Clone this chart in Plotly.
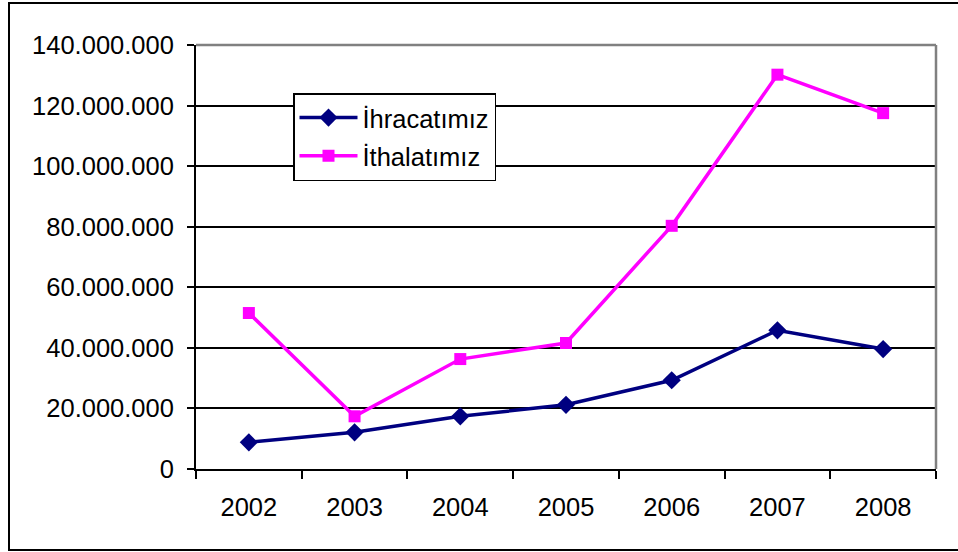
import plotly.graph_objects as go

years = ["2002", "2003", "2004", "2005", "2006", "2007", "2008"]
ihracat = [8.8e6, 12.1e6, 17.4e6, 21.2e6, 29.3e6, 45.8e6, 39.6e6]
ithalat = [51.5e6, 17.4e6, 36.3e6, 41.6e6, 80.3e6, 130.2e6, 117.5e6]
y_ticks = [0, 20e6, 40e6, 60e6, 80e6, 100e6, 120e6, 140e6]

FONT = "Liberation Sans, Arial, sans-serif"
FS = 25.5

fig = go.Figure()
fig.add_trace(go.Scatter(
    x=years, y=ihracat, name="İhracatımız", mode="lines+markers",
    line=dict(color="#000080", width=3.5),
    marker=dict(symbol="diamond", size=14, color="#000080"),
    legendgroup="a",
))
fig.add_trace(go.Scatter(
    x=years, y=ithalat, name="İthalatımız", mode="lines+markers",
    line=dict(color="#FF00FF", width=3.5),
    marker=dict(symbol="square", size=12, color="#FF00FF"),
    legendgroup="b",
))

L, R, T, B = 196, 936, 45, 469
W, H = 958, 552
pw, ph = R - L, B - T

def px(x):
    return (x - L) / pw

def py(y):
    return (B - y) / ph

fig.update_layout(
    width=W, height=H,
    margin=dict(l=L, r=W - R, t=T, b=H - B, pad=0),
    paper_bgcolor="white", plot_bgcolor="white",
    separators=",.",
    font=dict(family=FONT, size=FS, color="black"),
    showlegend=True,
    legend=dict(
        x=px(293), y=py(93), xanchor="left", yanchor="top",
        bordercolor="black", borderwidth=1.5, bgcolor="white",
        font=dict(family=FONT, size=FS, color="black"),
        traceorder="grouped", tracegroupgap=2, itemwidth=58,
    ),
    xaxis=dict(
        type="category", range=[-0.5, 6.5],
        showgrid=False, showline=True, linecolor="black", linewidth=2,
        ticks="outside", ticklen=8, tickwidth=2, tickcolor="black",
        tickson="boundaries", tickfont=dict(size=FS), ticklabelstandoff=14,
        zeroline=False, fixedrange=True,
    ),
    yaxis=dict(
        range=[0, 140e6], tickvals=y_ticks, tickformat=",d",
        showgrid=True, gridcolor="black", gridwidth=2,
        showline=True, linecolor="black", linewidth=2,
        ticks="outside", ticklen=7, tickwidth=2, tickcolor="black",
        tickfont=dict(size=FS), ticklabelstandoff=8,
        zeroline=False, fixedrange=True,
    ),
    shapes=[
        dict(type="line", xref="paper", yref="paper", x0=0, x1=1, y0=1, y1=1,
             line=dict(color="#808080", width=2.5)),
        dict(type="line", xref="paper", yref="paper", x0=1, x1=1, y0=0, y1=1,
             line=dict(color="#808080", width=2.5)),
        dict(type="rect", xref="paper", yref="paper",
             x0=px(9), x1=px(962), y0=py(550), y1=py(3),
             line=dict(color="black", width=2), layer="below"),
    ],
)

fig.write_html(
    "out.html",
    config={"displayModeBar": False, "staticPlot": True},
    post_script="document.body.style.margin='0';document.body.style.overflow='hidden';",
)
